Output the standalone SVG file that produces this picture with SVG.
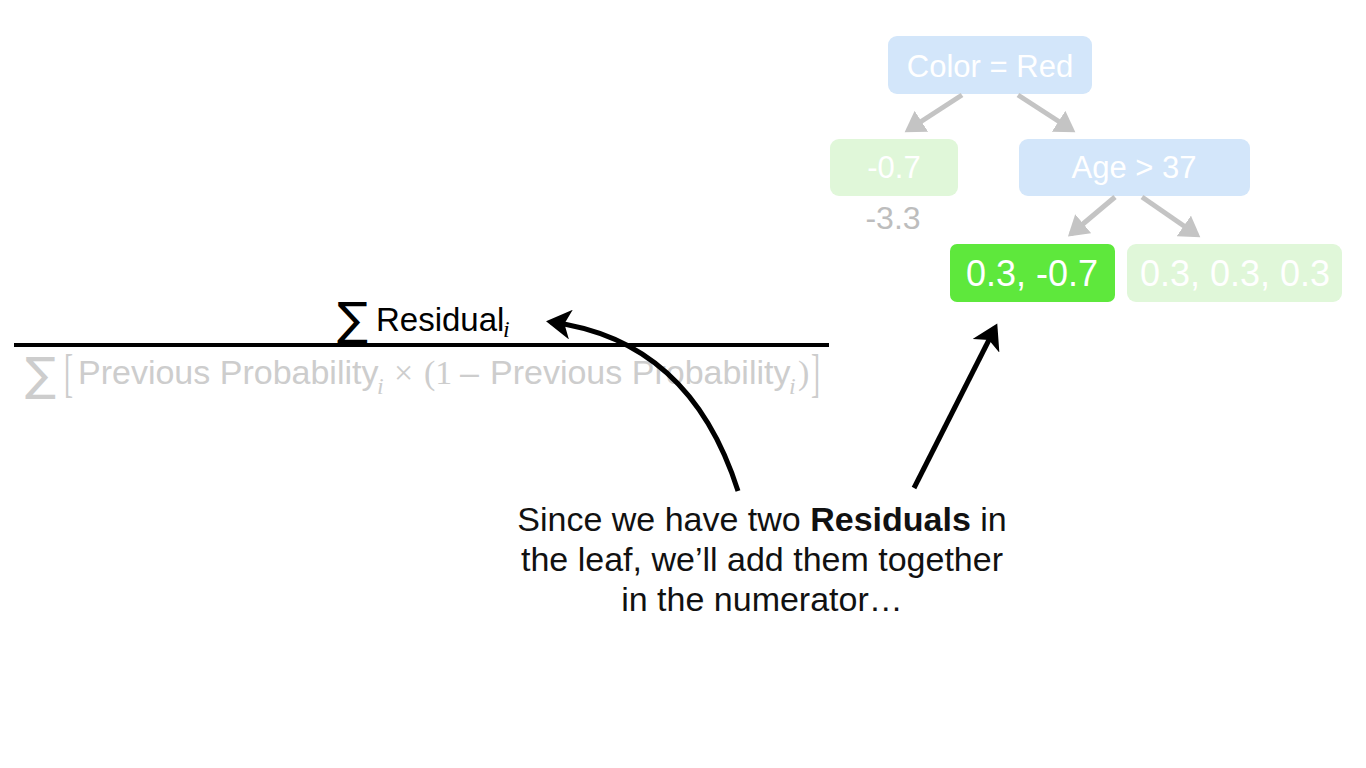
<svg xmlns="http://www.w3.org/2000/svg" width="1366" height="768" viewBox="0 0 1366 768">
<style>
text{font-family:"Liberation Sans",Arial,sans-serif}
.nt{fill:#fff;font-size:31px;text-anchor:middle}
.lt{fill:#fff;font-size:36px;text-anchor:middle}
.blue{fill:#d3e6fa}
.lg{fill:#e0f7d9}
.ga{stroke:#c4c4c4;stroke-width:5;fill:none;marker-end:url(#gh)}
.ba{stroke:#000;stroke-width:5;fill:none;marker-end:url(#bh)}
.cap{font-size:34px;fill:#111;text-anchor:middle}
.den{fill:#cdcdcd;font-size:34px}
.sub{font-family:"Liberation Serif",serif;font-style:italic;font-size:24px}
.ser{font-family:"Liberation Serif",serif}
.sig{font-family:"DejaVu Sans",sans-serif;font-size:46px}
</style>
<defs>
<marker id="gh" markerWidth="5" markerHeight="5" refX="3.2" refY="2.5" orient="auto" markerUnits="strokeWidth">
<path d="M0,0 L4,2.5 L0,5 Z" fill="#c4c4c4"/>
</marker>
<marker id="bh" markerWidth="6" markerHeight="6" refX="4" refY="3" orient="auto" markerUnits="strokeWidth">
<path d="M0,0 L5,3 L0,6 L1.3,3 Z" fill="#000"/>
</marker>
</defs>
<rect width="1366" height="768" fill="#fff"/>
<g id="n-color"><rect class="blue" x="888" y="36" width="204" height="58" rx="9"/><text class="nt" x="990" y="77">Color = Red</text></g>
<g id="n-left"><rect class="lg" x="830" y="139" width="128" height="57" rx="9"/><text class="nt" x="894" y="178">-0.7</text><text x="893" y="229" font-size="32" fill="#bdbdbd" text-anchor="middle">-3.3</text></g>
<g id="n-age"><rect class="blue" x="1019" y="139" width="231" height="57" rx="9"/><text class="nt" x="1134" y="178">Age &gt; 37</text></g>
<g id="n-leaf1"><rect x="950" y="244" width="165" height="58" rx="7" fill="#5ee83c"/><text class="lt" x="1032" y="286">0.3, -0.7</text></g>
<g id="n-leaf2"><rect class="lg" x="1127" y="244" width="215" height="58" rx="9"/><text class="lt" x="1235" y="286">0.3, 0.3, 0.3</text></g>
<g id="formula">
<text class="sig" x="337" y="335" font-size="44" fill="#000">∑</text>
<text x="376" y="331" font-size="33" fill="#000">Residual</text>
<text class="sub" x="503" y="337" fill="#000">i</text>
<line x1="14" y1="345" x2="829" y2="345" stroke="#000" stroke-width="4"/>
<text class="den sig" x="25" y="390">∑</text>
<text class="den ser" transform="translate(64,391) scale(0.8,1.55)" font-size="34">[</text>
<text class="den" x="78" y="384">Previous Probability</text>
<text class="den sub" x="377" y="394">i</text>
<text class="den ser" x="394" y="384" font-size="32">×</text>
<text class="den ser" x="424" y="384" font-size="34">(1</text>
<text class="den" x="460" y="384">–</text>
<text class="den" x="490" y="384">Previous Probability</text>
<text class="den sub" x="789" y="394">i</text>
<text class="den ser" x="798" y="384" font-size="34">)</text>
<text class="den ser" transform="translate(811,391) scale(0.8,1.55)" font-size="34">]</text>
</g>
<g id="connectors">
<line class="ga" x1="962" y1="95" x2="908" y2="130"/>
<line class="ga" x1="1018" y1="95" x2="1072" y2="130"/>
<line class="ga" x1="1115" y1="197" x2="1071" y2="234"/>
<line class="ga" x1="1142" y1="197" x2="1197" y2="235"/>
<path class="ba" d="M738,491 Q690,340 551,322"/>
<line class="ba" x1="914" y1="488" x2="995" y2="328"/>
</g>
<g id="caption">
<text class="cap" x="762" y="531">Since we have two <tspan font-weight="bold">Residuals</tspan> in</text>
<text class="cap" x="762" y="571">the leaf, we’ll add them together</text>
<text class="cap" x="762" y="611">in the numerator…</text>
</g>
</svg>
